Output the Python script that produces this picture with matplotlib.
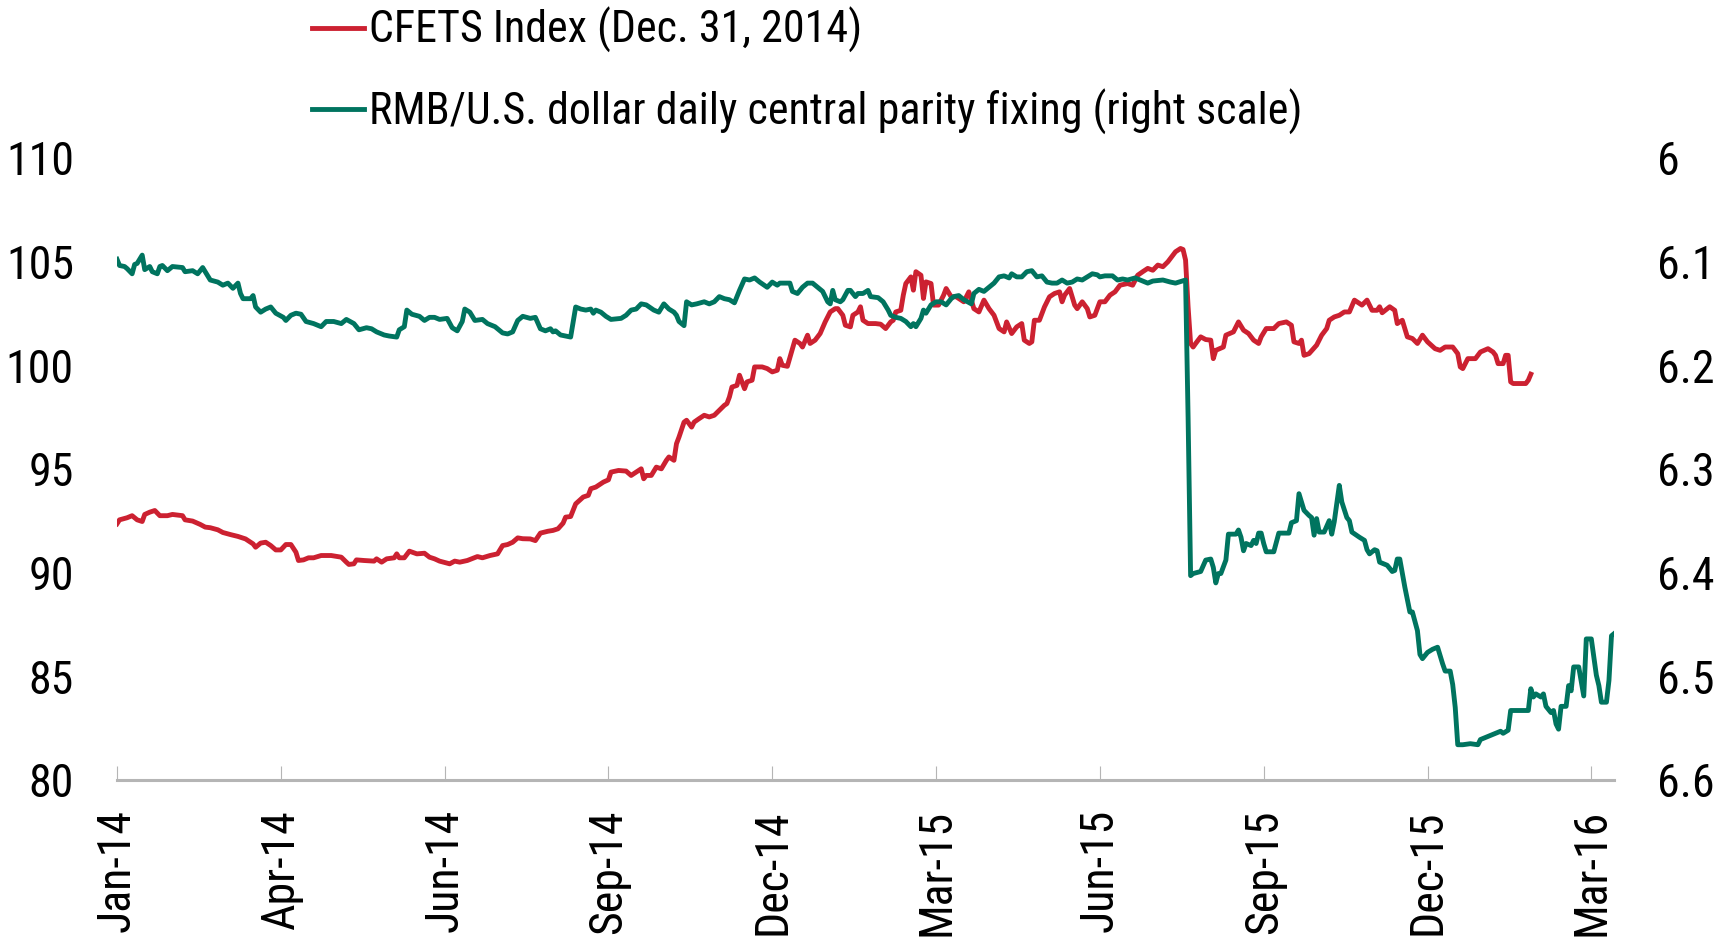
import matplotlib
matplotlib.use("Agg")
import matplotlib.pyplot as plt
from matplotlib.lines import Line2D

# ---------------- data (trading-day number since 1 Jan 2014, value) ----------------
cfets_day = [0, 1, 4, 6, 8, 10, 11, 13, 15, 17, 20, 22, 26, 27, 30, 33, 35, 37, 40, 42, 45, 48, 51, 54, 55, 57, 59,
             61, 63, 65, 67, 69, 71, 72, 74, 76, 78, 81, 85, 89, 91, 92, 94, 95, 98, 102, 103, 105, 107, 110, 111,
             112, 114, 116, 119, 122, 124, 126, 128, 132, 134, 136, 139, 143, 145, 148, 151, 153, 155, 157, 159,
             161, 164, 166, 168, 171, 173, 175, 177, 178, 180, 182, 185, 187, 188, 190, 193, 195, 196, 199, 202,
             204, 206, 208, 209, 210, 212, 214, 216, 218, 219, 221, 222, 223, 225, 226, 228, 229, 231, 233, 235,
             237, 239, 241, 242, 243, 244, 246, 247, 249, 250, 252, 253, 256, 258, 260, 262, 263, 264, 266, 268,
             269, 271, 272, 274, 275, 277, 279, 281, 283, 285, 286, 288, 289, 291, 292, 294, 295, 296, 298, 301,
             303, 305, 307, 308, 309, 311, 312, 313, 315, 316, 317, 319, 320, 321, 323, 324, 326, 328, 329, 331,
             333, 336, 338, 340, 342, 344, 346, 348, 350, 352, 353, 355, 357, 359, 360, 362, 363, 364, 366, 368,
             370, 372, 374, 375, 376, 378, 380, 381, 383, 385, 386, 388, 390, 392, 394, 396, 398, 401, 403, 405,
             407, 409, 411, 413, 415, 417, 419, 420, 422, 423, 424, 425, 426, 427, 428, 430, 432, 434, 435, 436,
             439, 440, 443, 445, 447, 449, 451, 453, 454, 456, 459, 461, 464, 466, 467, 469, 470, 471, 473, 476,
             478, 480, 481, 483, 485, 487, 489, 491, 492, 494, 496, 498, 500, 501, 502, 505, 507, 508, 510, 512,
             514, 516, 518, 520, 523, 525, 527, 530, 532, 533, 534, 536, 539, 541, 544, 546, 547, 548, 550, 551,
             552, 553, 554, 559, 560, 561]
cfets_val = [92.35, 92.54, 92.64, 92.74, 92.54, 92.46, 92.80, 92.91, 92.99, 92.74, 92.74, 92.80, 92.74, 92.54,
             92.48, 92.32, 92.19, 92.16, 92.06, 91.93, 91.83, 91.74, 91.62, 91.38, 91.22, 91.42, 91.46, 91.30,
             91.09, 91.09, 91.35, 91.35, 90.98, 90.58, 90.61, 90.71, 90.71, 90.82, 90.82, 90.74, 90.50, 90.39,
             90.42, 90.61, 90.58, 90.55, 90.66, 90.50, 90.66, 90.71, 90.90, 90.71, 90.71, 91.03, 90.90, 90.93,
             90.74, 90.66, 90.55, 90.42, 90.55, 90.50, 90.58, 90.77, 90.71, 90.82, 90.90, 91.30, 91.35, 91.46,
             91.67, 91.63, 91.62, 91.54, 91.90, 91.99, 92.03, 92.11, 92.38, 92.67, 92.70, 93.31, 93.64, 93.72,
             94.04, 94.12, 94.36, 94.47, 94.84, 94.92, 94.89, 94.68, 94.84, 95.00, 94.52, 94.68, 94.68, 95.08,
             95.00, 95.41, 95.57, 95.41, 96.21, 96.53, 97.25, 97.34, 97.01, 97.25, 97.42, 97.58, 97.50, 97.58,
             97.82, 98.06, 98.14, 98.46, 98.94, 99.02, 99.51, 98.86, 99.19, 99.27, 99.91, 99.91, 99.83, 99.67,
             99.75, 100.31, 99.99, 99.94, 100.79, 101.20, 101.04, 100.87, 101.44, 101.04, 101.20, 101.52, 102.08,
             102.56, 102.72, 102.72, 102.40, 101.92, 101.84, 102.40, 102.56, 102.81, 102.16, 102.00, 102.00,
             101.97, 101.76, 102.08, 102.16, 102.56, 102.64, 103.37, 103.93, 104.25, 103.61, 104.50, 104.33,
             103.21, 104.01, 103.93, 102.89, 102.89, 103.37, 103.69, 103.29, 103.29, 103.05, 103.53, 102.72,
             102.56, 103.13, 102.72, 102.40, 101.76, 101.60, 102.08, 101.52, 101.84, 102.00, 101.20, 101.04,
             101.12, 102.16, 102.16, 102.80, 103.29, 103.45, 103.53, 103.05, 103.37, 103.69, 102.89, 102.72,
             103.05, 102.72, 102.32, 102.40, 103.05, 103.05, 103.37, 103.53, 103.85, 103.93, 103.85, 104.33,
             104.50, 104.66, 104.57, 104.82, 104.74, 104.98, 105.30, 105.46, 105.62, 105.57, 105.06, 102.81,
             101.04, 100.87, 101.04, 101.36, 101.23, 101.20, 100.31, 100.71, 100.87, 101.44, 101.60, 102.08,
             101.68, 101.52, 101.20, 101.04, 101.36, 101.76, 101.76, 102.00, 102.08, 101.92, 101.12, 101.04,
             101.20, 100.47, 100.55, 100.96, 101.44, 101.76, 102.16, 102.32, 102.40, 102.56, 102.56, 103.13,
             103.05, 102.89, 103.13, 102.64, 102.64, 102.81, 102.52, 102.81, 102.64, 102.00, 102.16, 101.36,
             101.28, 101.04, 101.44, 101.12, 100.79, 100.71, 100.87, 100.87, 100.55, 99.91, 99.83, 100.31,
             100.31, 100.63, 100.79, 100.63, 100.47, 100.07, 100.07, 100.47, 100.47, 99.19, 99.11, 99.11, 99.27,
             99.56]

fix_day = [0, 1, 3, 4, 6, 7, 8, 10, 11, 13, 14, 16, 17, 18, 20, 22, 26, 27, 30, 32, 34, 35, 37, 40, 42, 44, 46,
           48, 49, 50, 53, 54, 55, 57, 59, 61, 63, 66, 67, 69, 71, 73, 75, 78, 81, 83, 86, 89, 91, 94, 96, 99,
           101, 103, 106, 108, 111, 112, 114, 115, 117, 120, 122, 124, 126, 128, 131, 133, 135, 137, 138, 140,
           142, 145, 147, 150, 153, 155, 157, 159, 161, 164, 166, 168, 170, 172, 173, 174, 176, 178, 180, 182,
           184, 186, 188, 189, 190, 192, 194, 196, 200, 202, 204, 206, 208, 210, 213, 215, 217, 219, 221, 222,
           223, 225, 226, 228, 230, 233, 235, 237, 239, 241, 243, 245, 247, 249, 251, 253, 255, 258, 260, 262,
           263, 265, 267, 268, 270, 272, 274, 276, 278, 280, 282, 283, 284, 285, 287, 288, 290, 291, 293, 294,
           296, 298, 299, 302, 304, 306, 307, 309, 311, 313, 315, 316, 317, 319, 320, 321, 323, 325, 327, 329,
           331, 332, 334, 336, 339, 340, 342, 344, 346, 348, 350, 352, 354, 355, 357, 359, 361, 363, 365, 367,
           369, 371, 373, 375, 377, 379, 381, 383, 385, 387, 389, 390, 392, 395, 397, 399, 401, 404, 406, 409,
           411, 415, 418, 420, 424, 425, 426, 427, 430, 432, 434, 435, 436, 437, 438, 440, 441, 444, 445, 446,
           447, 448, 450, 451, 452, 453, 454, 455, 456, 459, 461, 465, 466, 468, 469, 471, 473, 474, 475, 476,
           477, 479, 481, 482, 483, 485, 486, 488, 489, 490, 493, 495, 496, 497, 499, 500, 501, 504, 506, 507,
           508, 509, 511, 513, 514, 516, 517, 518, 520, 522, 524, 526, 527, 529, 530, 531, 532, 534, 537, 540,
           541, 544, 546, 549, 550, 552, 553, 557, 560, 561, 562, 563, 565, 566, 567, 569, 570, 571, 572, 573,
           575, 576, 577, 578, 580, 582, 583, 585, 587, 588, 589, 591, 592, 593, 594]
fix_val = [6.098, 6.104, 6.105, 6.107, 6.112, 6.103, 6.102, 6.094, 6.108, 6.105, 6.110, 6.112, 6.105, 6.104,
           6.109, 6.105, 6.106, 6.110, 6.109, 6.112, 6.106, 6.110, 6.118, 6.120, 6.123, 6.121, 6.126, 6.121,
           6.131, 6.136, 6.136, 6.133, 6.144, 6.149, 6.146, 6.144, 6.150, 6.154, 6.157, 6.152, 6.150, 6.151,
           6.158, 6.160, 6.163, 6.158, 6.158, 6.160, 6.156, 6.160, 6.166, 6.164, 6.165, 6.168, 6.171, 6.172,
           6.173, 6.166, 6.163, 6.147, 6.151, 6.153, 6.157, 6.154, 6.154, 6.156, 6.155, 6.164, 6.167, 6.158,
           6.146, 6.149, 6.157, 6.156, 6.160, 6.163, 6.169, 6.170, 6.168, 6.157, 6.153, 6.155, 6.154, 6.165,
           6.167, 6.165, 6.168, 6.167, 6.171, 6.172, 6.173, 6.144, 6.146, 6.147, 6.146, 6.150, 6.147, 6.149,
           6.153, 6.156, 6.155, 6.152, 6.147, 6.146, 6.141, 6.142, 6.147, 6.149, 6.141, 6.146, 6.149, 6.152,
           6.158, 6.162, 6.139, 6.142, 6.141, 6.139, 6.141, 6.139, 6.134, 6.136, 6.137, 6.140, 6.128, 6.117,
           6.118, 6.116, 6.120, 6.125, 6.120, 6.123, 6.121, 6.121, 6.121, 6.129, 6.131, 6.125, 6.121, 6.121,
           6.125, 6.129, 6.139, 6.141, 6.128, 6.137, 6.139, 6.137, 6.128, 6.128, 6.134, 6.131, 6.131, 6.128,
           6.134, 6.135, 6.139, 6.147, 6.152, 6.154, 6.155, 6.158, 6.163, 6.160, 6.163, 6.155, 6.147, 6.150,
           6.142, 6.139, 6.139, 6.142, 6.136, 6.134, 6.133, 6.137, 6.141, 6.131, 6.127, 6.129, 6.125, 6.121,
           6.115, 6.114, 6.116, 6.112, 6.115, 6.115, 6.110, 6.109, 6.115, 6.114, 6.120, 6.121, 6.121, 6.118,
           6.121, 6.120, 6.117, 6.118, 6.115, 6.112, 6.113, 6.115, 6.114, 6.114, 6.118, 6.117, 6.118, 6.116,
           6.118, 6.121, 6.119, 6.118, 6.120, 6.121, 6.118, 6.250, 6.403, 6.401, 6.399, 6.388, 6.387, 6.395,
           6.410, 6.401, 6.401, 6.388, 6.363, 6.363, 6.359, 6.366, 6.379, 6.372, 6.374, 6.369, 6.372, 6.362,
           6.362, 6.372, 6.380, 6.380, 6.362, 6.362, 6.352, 6.350, 6.324, 6.340, 6.345, 6.347, 6.364, 6.348,
           6.361, 6.361, 6.350, 6.363, 6.351, 6.316, 6.332, 6.347, 6.350, 6.361, 6.366, 6.369, 6.378, 6.382,
           6.378, 6.379, 6.390, 6.393, 6.399, 6.398, 6.387, 6.387, 6.414, 6.438, 6.438, 6.456, 6.479, 6.483,
           6.477, 6.474, 6.472, 6.488, 6.495, 6.495, 6.508, 6.530, 6.566, 6.566, 6.565, 6.566, 6.561, 6.558,
           6.556, 6.553, 6.555, 6.552, 6.533, 6.533, 6.533, 6.512, 6.520, 6.517, 6.520, 6.517, 6.529, 6.535,
           6.533, 6.546, 6.551, 6.529, 6.529, 6.509, 6.514, 6.491, 6.491, 6.519, 6.464, 6.464, 6.499, 6.509,
           6.525, 6.525, 6.504, 6.461, 6.459]

tick_days = [0, 65, 130, 195, 260, 325, 390, 455, 520, 585]
tick_labels = ["Jan-14", "Apr-14", "Jun-14", "Sep-14", "Dec-14", "Mar-15", "Jun-15", "Sep-15", "Dec-15", "Mar-16"]
left_ticks = [80, 85, 90, 95, 100, 105, 110]
right_ticks = [6.6, 6.5, 6.4, 6.3, 6.2, 6.1, 6.0]
right_labels = ["6.6", "6.5", "6.4", "6.3", "6.2", "6.1", "6"]

series_labels = ["CFETS Index (Dec. 31, 2014)", "RMB/U.S. dollar daily central parity fixing (right scale)"]

# ---------------- style ----------------
RED = "#CC2131"
GREEN = "#00745F"
GRAY = "#B5B5B5"
FONT = ["Roboto Condensed", "Archivo Narrow", "DejaVu Sans"]
FS = 33
LEG_FS = 31.7
LW = 3.5
plt.rcParams["font.family"] = FONT

fig = plt.figure(figsize=(17.28, 9.39), dpi=100)
ax = fig.add_axes([117 / 1728, 1 - 780 / 939, (1614 - 117) / 1728, (780 - 157.6) / 939])
ax2 = ax.twinx()

ax.plot(cfets_day, cfets_val, color=RED, lw=LW, solid_joinstyle="round", zorder=3)
ax2.plot(fix_day, fix_val, color=GREEN, lw=LW, solid_joinstyle="round", zorder=3)

ax.set_xlim(0, 594)
ax.set_ylim(80, 110)
ax2.set_ylim(6.6, 6.0)

for a in (ax, ax2):
    for s in ("top", "left", "right", "bottom"):
        a.spines[s].set_visible(False)
ax.spines["bottom"].set_visible(True)
ax.spines["bottom"].set_color(GRAY)
ax.spines["bottom"].set_linewidth(2.2)

ax.set_xticks(tick_days)
ax.set_xticklabels(tick_labels, rotation=90, fontsize=FS)
ax.tick_params(axis="x", direction="in", length=10, width=0.8, color=GRAY, pad=21)

ax.set_yticks(left_ticks)
ax.set_yticklabels([str(v) for v in left_ticks], fontsize=FS)
ax.tick_params(axis="y", length=0, pad=31)

ax2.set_yticks(right_ticks)
ax2.set_yticklabels(right_labels, fontsize=FS)
ax2.tick_params(axis="y", length=0, pad=31)

handles = [Line2D([], [], color=RED, lw=LW), Line2D([], [], color=GREEN, lw=LW)]
fig.legend(handles, series_labels, loc="center left", bbox_to_anchor=(312 / 1728, 1 - 71 / 939),
           frameon=False, fontsize=LEG_FS, handlelength=1.18, handletextpad=0.12, labelspacing=0.8,
           borderpad=0, borderaxespad=0)

fig.savefig("out.png", dpi=100)
